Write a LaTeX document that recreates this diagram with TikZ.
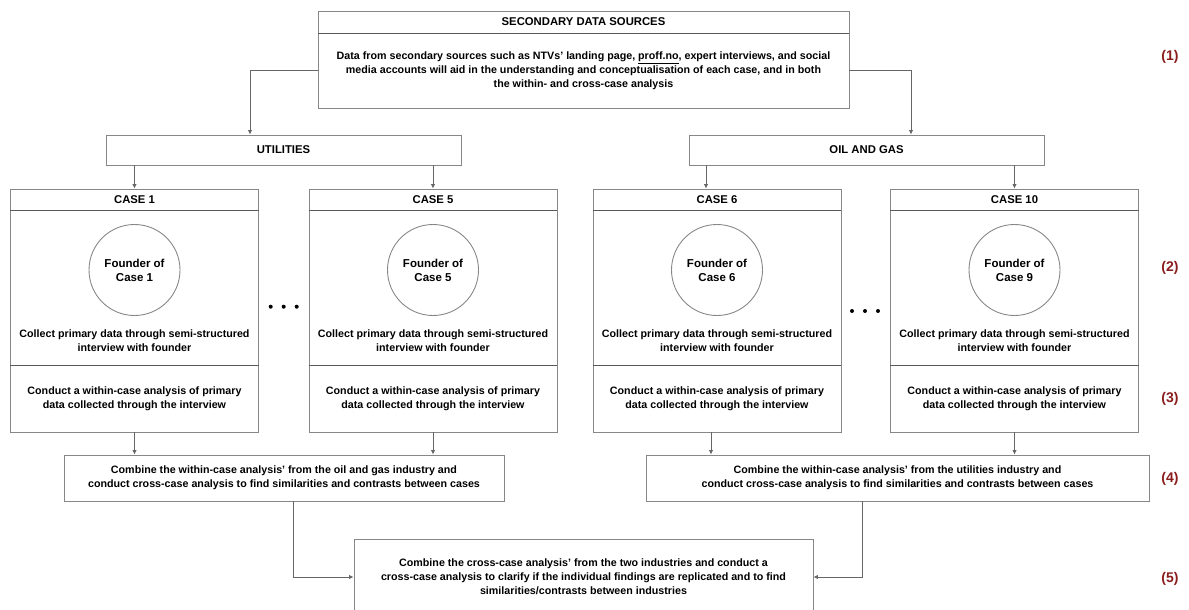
\documentclass[tikz,border=0pt]{standalone}
\usepackage{fontspec}
\setmainfont{Liberation Sans}
\usetikzlibrary{arrows.meta,positioning,calc}
\definecolor{stagered}{RGB}{139,28,28}
\definecolor{framegray}{RGB}{135,135,135}
\tikzset{
  frame/.style={draw=framegray,line width=0.9pt,rectangle,inner sep=0pt},
  divider/.style={draw=black!65,line width=0.8pt},
  headtxt/.style={font=\fontsize{11.3}{14}\selectfont\bfseries},
  body/.style={font=\fontsize{10.7}{14}\selectfont\bfseries,align=center,inner sep=0pt},
  founder/.style={draw=framegray,line width=0.9pt,circle,minimum size=91pt,inner sep=0pt,
    align=center,font=\fontsize{11.5}{14}\selectfont\bfseries},
  conn/.style={draw=black!60,line width=0.8pt,-{Latex[length=4.5pt,width=4.5pt]}},
  stagelbl/.style={font=\fontsize{14}{16}\selectfont\bfseries,text=stagered}
}

\begin{document}
\begin{tikzpicture}[x=1pt,y=-1pt]
  \useasboundingbox (0,0) rectangle (1189,610);

  % secondary data sources
  \node[frame,minimum width=531pt,minimum height=97pt] (src) at (583.5,59.5) {};
  \node[headtxt] (src-t) at (583.5,22) {SECONDARY DATA SOURCES};
  \draw[divider] (src.west |- 0,33) -- (src.east |- 0,33);
  \node[body] (src-b) at (583.5,70.5) {Data from secondary sources such as NTVs' landing page, \underline{proff.no}, expert interviews, and social\\
    media accounts will aid in the understanding and conceptualisation of each case, and in both\\
    the within- and cross-case analysis};

  % industries
  \node[frame,headtxt,minimum width=355pt,minimum height=30pt] (util) at (283.5,150) {UTILITIES};
  \node[frame,headtxt,minimum width=355pt,minimum height=30pt] (oil) at (866.5,150) {OIL AND GAS};
  \draw[conn] (src.west |- src-b) -| ([xshift=-33.5pt]util.north);
  \draw[conn] (src.east |- src-b) -| ([xshift=44.5pt]oil.north);

  % cases
  \foreach \nm/\cx/\cap/\num in {c1/134.5/CASE 1/1,c5/433/CASE 5/5,c6/717/CASE 6/6,c10/1014.5/CASE 10/9} {
    \node[frame,minimum width=248pt,minimum height=243pt] (\nm) at (\cx,310.5) {};
    \node[headtxt] (\nm-t) at (\cx,200) {\cap};
    \draw[divider] (\nm.west |- 0,210.5) -- (\nm.east |- 0,210.5);
    \node[founder] (\nm-f) at (\cx,270) {Founder of\\Case \num};
    \node[body] (\nm-col) at (\cx,341) {Collect primary data through semi-structured\\interview with founder};
    \draw[divider] (\nm.west |- 0,365) -- (\nm.east |- 0,365);
    \node[body] (\nm-ana) at (\cx,399) {Conduct a within-case analysis of primary\\data collected through the interview};
  }
  \foreach \dx in {-13,0,13} {
    \fill (283.7+\dx,306.7) circle (2pt);
    \fill (865+\dx,311) circle (2pt);
  }

  \coordinate (c6-in) at ([xshift=-11pt]c6.north);
  \coordinate (c6-out) at ([xshift=-6pt]c6.south);
  \draw[conn] (util.south -| c1.north) -- (c1.north);
  \draw[conn] (util.south -| c5.north) -- (c5.north);
  \draw[conn] (oil.south -| c6-in) -- (c6-in);
  \draw[conn] (oil.south -| c10.north) -- (c10.north);

  % cross-case analysis
  \node[frame,body,minimum width=440pt,minimum height=46pt] (combL) at (284,478) {Combine the within-case analysis' from the oil and gas industry and\\
    conduct cross-case analysis to find similarities and contrasts between cases};
  \node[frame,body,minimum width=503pt,minimum height=46pt] (combR) at (897.5,478) {Combine the within-case analysis' from the utilities industry and\\
    conduct cross-case analysis to find similarities and contrasts between cases};
  \draw[conn] (c1.south) -- (c1.south |- combL.north);
  \draw[conn] (c5.south) -- (c5.south |- combL.north);
  \draw[conn] (c6-out) -- (c6-out |- combR.north);
  \draw[conn] (c10.south) -- (c10.south |- combR.north);

  \node[frame,body,minimum width=459pt,minimum height=76pt] (final) at (583.5,577) {Combine the cross-case analysis' from the two industries and conduct a\\
    cross-case analysis to clarify if the individual findings are replicated and to find\\
    similarities/contrasts between industries};
  \draw[conn] ([xshift=9pt]combL.south) |- (final.west);
  \draw[conn] ([xshift=-35.5pt]combR.south) |- (final.east);

  % stage numbers
  \node[stagelbl] (s1) at (1170,57) {(1)};
  \node[stagelbl] (s2) at (1170,268) {(2)};
  \node[stagelbl] (s3) at (1170,399) {(3)};
  \node[stagelbl] (s4) at (1170,479) {(4)};
  \node[stagelbl] (s5) at (1170,579) {(5)};
\end{tikzpicture}
\end{document}
